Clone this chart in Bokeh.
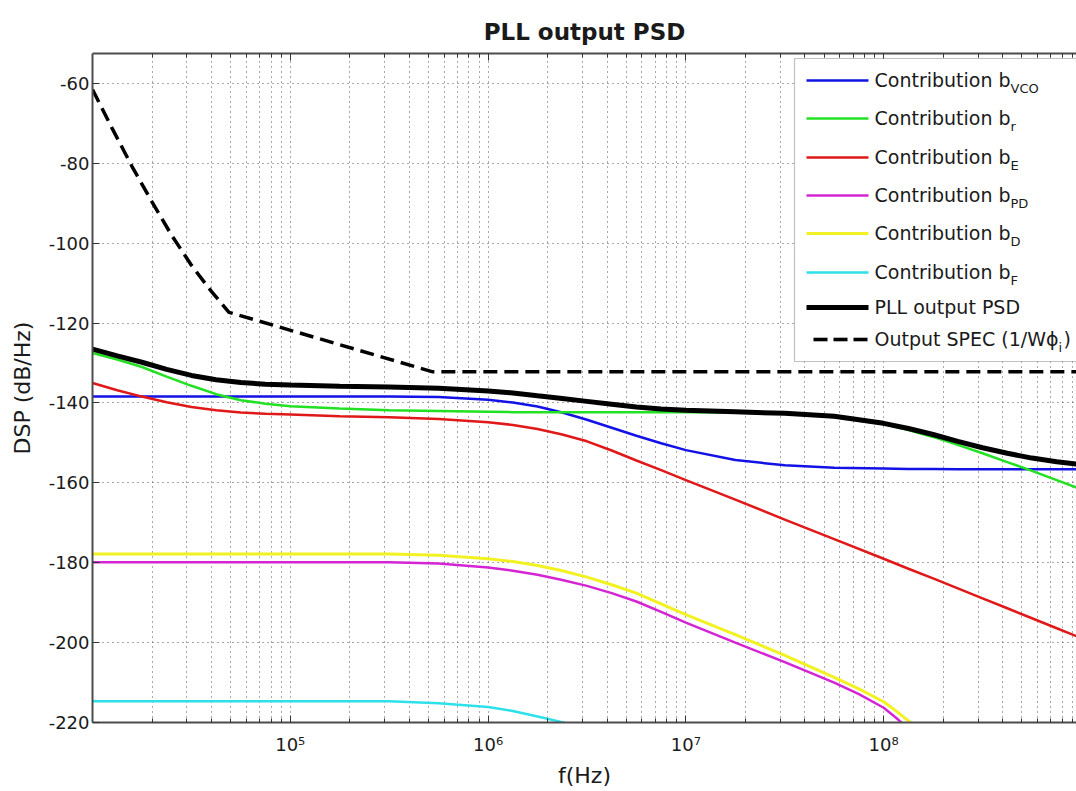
from bokeh.plotting import figure
from bokeh.models import Range1d, FixedTicker, LogAxis, BoxAnnotation, Label
from bokeh.embed import file_html
from bokeh.resources import INLINE

# ---------------- data ----------------
freq = [1e4, 1.334e4, 1.778e4, 2.371e4, 3.162e4, 4.217e4, 5.623e4, 7.499e4,
        1e5, 1.778e5, 3.162e5, 5.623e5,
        1e6, 1.334e6, 1.778e6, 2.371e6, 3.162e6, 4.217e6, 5.623e6, 7.499e6,
        1e7, 1.778e7, 3.162e7, 5.623e7,
        1e8, 1.334e8, 1.778e8, 2.371e8, 3.162e8, 4.217e8, 5.623e8, 7.499e8, 9.441e8]

vco_db = [-138.4, -138.4, -138.4, -138.4, -138.4, -138.4, -138.4, -138.4,
          -138.4, -138.4, -138.4, -138.5,
          -139.2, -139.9, -140.9, -142.4, -144.2, -146.2, -148.2, -150.1,
          -151.8, -154.3, -155.6, -156.2,
          -156.4, -156.5, -156.5, -156.6, -156.6, -156.6, -156.6, -156.6, -156.6]
r_db = [-127.5, -129.1, -131.0, -133.4, -135.7, -137.8, -139.3, -140.2,
        -140.8, -141.4, -141.8, -142.0,
        -142.2, -142.3, -142.3, -142.3, -142.3, -142.3, -142.3, -142.3,
        -142.3, -142.4, -142.7, -143.5,
        -145.3, -146.8, -148.5, -150.5, -152.6, -154.8, -157.0, -159.3, -161.2]
e_db = [-135.0, -136.8, -138.4, -139.8, -141.0, -141.8, -142.4, -142.7,
        -142.9, -143.3, -143.6, -144.0,
        -144.8, -145.5, -146.5, -147.9, -149.6, -151.9, -154.4, -156.8,
        -159.3, -164.2, -169.2, -174.1,
        -179.0, -181.5, -183.9, -186.4, -188.9, -191.4, -193.9, -196.4, -198.4]
pll_db = [-126.5, -128.2, -129.8, -131.6, -133.1, -134.2, -134.9, -135.3,
          -135.5, -135.8, -136.0, -136.3,
          -137.0, -137.5, -138.2, -138.9, -139.6, -140.3, -141.0, -141.5,
          -141.8, -142.2, -142.6, -143.3,
          -145.1, -146.4, -147.9, -149.6, -151.2, -152.6, -153.8, -154.7, -155.3]

pd_freq = freq[:24] + [7.499e7, 1e8, 1.155e8, 1.334e8]
pd_db = [-179.9, -179.9, -179.9, -179.9, -179.9, -179.9, -179.9, -179.9,
         -179.9, -179.9, -179.9, -180.2,
         -181.2, -182.0, -183.0, -184.3, -185.8, -187.6, -189.7, -192.3,
         -195.0, -200.0, -204.9, -210.0,
         -212.9, -216.3, -218.8, -221.6]
d_freq = freq[:24] + [7.499e7, 1e8, 1.155e8, 1.334e8, 1.585e8]
d_db = [-177.8, -177.8, -177.8, -177.8, -177.8, -177.8, -177.8, -177.8,
        -177.8, -177.8, -177.8, -178.1,
        -179.0, -179.7, -180.7, -182.0, -183.6, -185.5, -187.6, -190.3,
        -193.0, -198.0, -203.2, -208.7,
        -211.6, -214.8, -217.1, -219.6, -222.6]
f_freq = freq[:17]
f_db = [-214.7, -214.7, -214.7, -214.7, -214.7, -214.7, -214.7, -214.7,
        -214.7, -214.7, -214.7, -215.2,
        -216.1, -217.1, -218.5, -219.9, -221.8]

spec_freq = [1e4, 1.259e4, 1.585e4, 1.995e4, 2.512e4, 3.162e4, 3.981e4,
             4.898e4, 5.248e5, 9.441e8]
spec_db = [-61.5, -71.3, -80.8, -89.6, -98.0, -105.5, -112.0, -117.3,
           -132.2, -132.2]

x_tick_values = [1e5, 1e6, 1e7, 1e8]
x_tick_labels = ["10\u2075", "10\u2076", "10\u2077", "10\u2078"]
y_tick_values = [-220, -200, -180, -160, -140, -120, -100, -80, -60]
y_tick_labels = ["-220", "-200", "-180", "-160", "-140", "-120", "-100", "-80", "-60"]

legend_main = ["Contribution b", "Contribution b", "Contribution b", "Contribution b",
               "Contribution b", "Contribution b", "PLL output PSD", "Output SPEC (1/W\u03d5"]
legend_sub = ["VCO", "r", "E", "PD", "D", "F", "", "i"]
legend_tail = ["", "", "", "", "", "", "", ")"]

# ---------------- styles ----------------
C_VCO = "#1212e6"
C_R = "#22e022"
C_E = "#e01818"
C_PD = "#d424d4"
C_D = "#f2f222"
C_F = "#2ee0ea"
FONT = "DejaVu Sans"
TXT = "#1a1a1a"

p = figure(width=1076, height=791, x_axis_type="log",
           x_range=Range1d(10 ** 4.0, 10 ** 8.975), y_range=Range1d(-220, -52.5),
           output_backend="svg", toolbar_location=None,
           min_border_left=92, min_border_right=0, min_border_top=53,
           min_border_bottom=69)
p.outline_line_color = None
p.background_fill_color = "white"
p.border_fill_color = "white"

p.title.text = "PLL output PSD"
p.title.align = "center"
p.title.text_font = FONT
p.title.text_font_size = "23px"
p.title.text_font_style = "bold"
p.title.text_color = TXT
p.title.standoff = 18

minor = [k * 10 ** n for n in range(4, 9) for k in range(2, 10)]
xt = FixedTicker(ticks=x_tick_values, minor_ticks=minor)
yt = FixedTicker(ticks=y_tick_values, minor_ticks=[])
p.xaxis.ticker = xt
p.xgrid.ticker = xt
p.yaxis.ticker = yt
p.ygrid.ticker = yt
p.xaxis.major_label_overrides = dict(zip(x_tick_values, x_tick_labels))
p.yaxis.major_label_overrides = dict(zip(y_tick_values, y_tick_labels))

for g in (p.xgrid, p.ygrid):
    g.grid_line_color = "#555555"
    g.grid_line_dash = "1 4"
    g.grid_line_width = 1
p.xgrid.minor_grid_line_color = "#555555"
p.xgrid.minor_grid_line_dash = "1 4"

for ax in (p.xaxis, p.yaxis):
    ax.axis_line_color = "#4d4d4d"
    ax.axis_line_width = 2
    ax.major_tick_line_color = "#333333"
    ax.minor_tick_line_color = "#333333"
    ax.major_tick_in = 7
    ax.major_tick_out = 0
    ax.minor_tick_in = 4
    ax.minor_tick_out = 0
    ax.major_label_text_font = FONT
    ax.major_label_text_font_size = "18px"
    ax.major_label_text_color = TXT
    ax.axis_label_text_font = FONT
    ax.axis_label_text_font_style = "normal"
    ax.axis_label_text_color = TXT
    ax.axis_label_text_font_size = "22px"

p.xaxis.axis_label = "f(Hz)"
p.yaxis.axis_label = "DSP (dB/Hz)"
p.xaxis.major_label_standoff = 11
p.xaxis.axis_label_standoff = 5
p.yaxis.major_label_standoff = 3
p.yaxis.axis_label_standoff = 11

top = LogAxis(ticker=xt, major_label_text_font_size="0px", major_label_text_alpha=0,
              major_tick_in=7, major_tick_out=0, minor_tick_in=4, minor_tick_out=0,
              axis_line_color="#4d4d4d", axis_line_width=2, major_label_standoff=0,
              major_tick_line_color="#333333", minor_tick_line_color="#333333")
p.add_layout(top, "above")

# ---------------- curves ----------------
p.line(freq, vco_db, line_color=C_VCO, line_width=2.5)
p.line(freq, r_db, line_color=C_R, line_width=2.5)
p.line(freq, e_db, line_color=C_E, line_width=2.5)
p.line(d_freq, d_db, line_color=C_D, line_width=3)
p.line(pd_freq, pd_db, line_color=C_PD, line_width=2.5)
p.line(f_freq, f_db, line_color=C_F, line_width=2.5)
p.line(freq, pll_db, line_color="black", line_width=5)
p.line(spec_freq, spec_db, line_color="black", line_width=3.5, line_dash="14 7")

# ---------------- legend (screen units, frame-relative) ----------------
S = dict(left_units="screen", right_units="screen", top_units="screen", bottom_units="screen")
p.add_layout(BoxAnnotation(left=702, right=1200, top=664, bottom=361, fill_color="white",
                           fill_alpha=1, line_color="#333333", line_width=1.2, **S))
row_y = [642, 604, 565, 527, 489, 450, 415, 383]
styles = [(C_VCO, 2.6), (C_R, 2.6), (C_E, 2.6), (C_PD, 2.6), (C_D, 3.0), (C_F, 2.6),
          ("black", 5.0), ("black", 3.6)]
for i, (yy, (col, lw)) in enumerate(zip(row_y, styles)):
    if i < 7:
        p.add_layout(BoxAnnotation(left=714, right=776, bottom=yy - lw / 2, top=yy + lw / 2,
                                   fill_color=col, fill_alpha=1, line_color=None, **S))
    else:
        for a in (721, 741, 761):
            p.add_layout(BoxAnnotation(left=a, right=a + 14, bottom=yy - lw / 2, top=yy + lw / 2,
                                       fill_color=col, fill_alpha=1, line_color=None, **S))
    p.add_layout(Label(x=782, y=yy + 1, x_units="screen", y_units="screen",
                       text=legend_main[i], text_font=FONT, text_font_size="19px",
                       text_color=TXT, text_baseline="middle", text_align="left"))

sub_x = [918, 918, 918, 918, 918, 918, 0, 966]
for i in range(8):
    if legend_sub[i]:
        p.add_layout(Label(x=sub_x[i], y=row_y[i] - 8, x_units="screen", y_units="screen",
                           text=legend_sub[i], text_font=FONT, text_font_size="13px",
                           text_color=TXT, text_baseline="middle", text_align="left"))
    if legend_tail[i]:
        p.add_layout(Label(x=sub_x[i] + 5, y=row_y[i] + 1, x_units="screen", y_units="screen",
                           text=legend_tail[i], text_font=FONT, text_font_size="19px",
                           text_color=TXT, text_baseline="middle", text_align="left"))

open("out.html", "w").write(file_html(p, INLINE))
